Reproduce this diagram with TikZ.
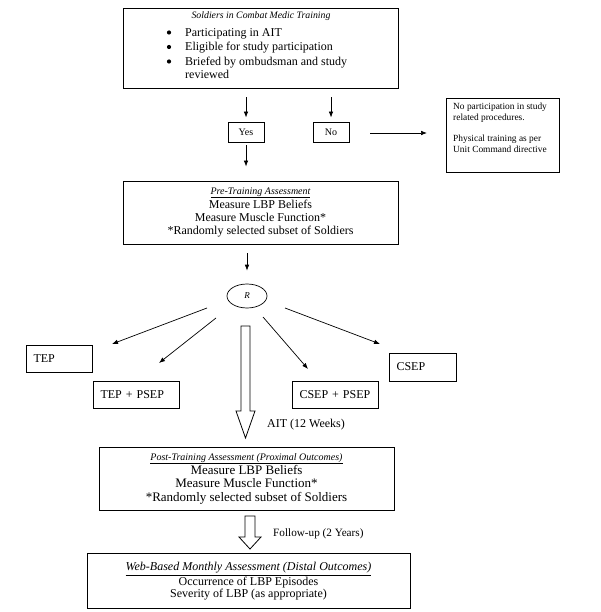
\documentclass[tikz,border=0pt]{standalone}
\usepackage{fontspec}
\setmainfont{Liberation Serif}
\usetikzlibrary{arrows.meta,calc,shapes.geometric}
\begin{document}
\begin{tikzpicture}[x=1pt,y=-1pt,
  box/.style={draw,line width=0.9pt,inner sep=0pt},
  arr/.style={line width=0.7pt,-{Latex[length=6pt,width=4.6pt]}},
  hollow/.style={draw,line width=0.8pt,fill=white},
  txt/.style={inner sep=0pt},
  bul/.style={circle,fill,inner sep=0pt,minimum size=4.2pt},
  grp/.style={box,align=left,inner xsep=7.5pt,inner ysep=0pt,font=\fontsize{12}{14}\selectfont},
]
\useasboundingbox (0,0) rectangle (600,612);

% top box
\node[box,minimum width=275,minimum height=80] (top) at (260.5,48) {};
\node[txt,font=\fontsize{9.8}{11}\selectfont\itshape] (toptitle) at (261,16.5) {Soldiers in Combat Medic Training};
\foreach \n/\yy/\t in {b1/36.5/Participating in AIT, b2/51/Eligible for study participation, b3/65.5/Briefed by ombudsman and study}{
  \node[txt,anchor=base west,font=\fontsize{12}{14}\selectfont] (\n) at (185,\yy) {\t};
  \node[bul] (\n d) at (169,\yy-4) {};
}
\node[txt,anchor=base west,font=\fontsize{12}{14}\selectfont] (b4) at (185,79) {reviewed};

% yes / no
\node[box,minimum width=36,minimum height=20,font=\fontsize{10}{12}\selectfont] (yes) at (246,132) {Yes};
\node[box,minimum width=36,minimum height=20,font=\fontsize{10}{12}\selectfont] (no) at (331,132) {No};
\draw[arr] ($(top.south -| yes.north)+(0,9)$) -- ($(yes.north)+(0,-4)$);
\draw[arr] ($(top.south -| no.north)+(0,9)$) -- ($(no.north)+(0,-4)$);

% no participation
\node[box,minimum width=113,minimum height=74] (nopart) at (502.5,135) {};
\node[txt,anchor=north west,align=left,font=\fontsize{9.4}{11}\selectfont] (noparttxt) at (453,102.5)
  {No participation in study\\related procedures.\\[10pt]Physical training as per\\Unit Command directive};
\coordinate (noend) at (427,133);
\draw[arr] ($(no.east)+(21,1)$) -- (noend);

% pre-training
\node[box,minimum width=275,minimum height=63,align=center,font=\fontsize{12}{13.3}\selectfont] (pre) at (260.5,212.5)
  {{\fontsize{10}{13.3}\selectfont\itshape\underline{Pre-Training Assessment}}\\[1pt]Measure LBP Beliefs\\Measure Muscle Function*\\*Randomly selected subset of Soldiers};
\draw[arr] ($(yes.south)+(0,3)$) -- ($(pre.north -| yes.south)+(0,-14)$);

% randomisation
\node[draw,ellipse,line width=0.7pt,minimum width=40,minimum height=24,inner sep=0pt,font=\fontsize{9}{10}\selectfont\itshape] (R) at (247,296) {R};
\draw[arr] ($(pre.south -| R.north)+(0,9)$) -- ($(R.north)+(0,-13)$);

\coordinate (r1s) at (207,308); \coordinate (r1e) at (112,344);
\coordinate (r2s) at (216,318); \coordinate (r2e) at (159,363);
\coordinate (r3s) at (263,317); \coordinate (r3e) at (308,369);
\coordinate (r4s) at (285,308); \coordinate (r4e) at (380,344);
\draw[arr] (r1s) -- (r1e);
\draw[arr] (r2s) -- (r2e);
\draw[arr] (r3s) -- (r3e);
\draw[arr] (r4s) -- (r4e);

% groups
\node[grp,text width=51,minimum height=27] (tep) at (59,358.5) {TEP};
\node[grp,text width=71,minimum height=27] (teppsep) at (136,394.5) {TEP + PSEP};
\node[grp,text width=71,minimum height=27] (cseppsep) at (335,394.5) {CSEP + PSEP};
\node[grp,text width=52,minimum height=28] (csep) at (422.5,367) {CSEP};

% big hollow arrow 1
\coordinate (h1) at (245.5,326);
\draw[hollow] ($(h1)+(-4.5,0)$) -- ++(9,0) -- ++(0,85) -- ++(5,0) -- ++(-9.5,27) -- ++(-9.5,-27) -- ++(5,0) -- cycle;
\node[txt,anchor=west,font=\fontsize{12}{14}\selectfont] (ait) at (267,425) {AIT (12 Weeks)};

% post-training
\node[box,minimum width=295,minimum height=63,align=center,font=\fontsize{13}{13.3}\selectfont] (post) at (246.5,478.5)
  {{\fontsize{10}{13.3}\selectfont\itshape\underline{Post-Training Assessment (Proximal Outcomes)}}\\[1pt]Measure LBP Beliefs\\Measure Muscle Function*\\*Randomly selected subset of Soldiers};

% hollow arrow 2
\coordinate (h2) at (250,516);
\draw[hollow] ($(h2)+(-5,0)$) -- ++(10,0) -- ++(0,21) -- ++(6,0) -- ++(-11,12) -- ++(-11,-12) -- ++(6,0) -- cycle;
\node[txt,anchor=west,font=\fontsize{11.2}{13}\selectfont] (fu) at (273,534) {Follow-up (2 Years)};

% web-based
\node[box,minimum width=323,minimum height=55] (web) at (248.5,580.5) {};
\node[txt,align=center,font=\fontsize{12}{12.5}\selectfont] (webtxt) at (248.5,581.5)
  {{\itshape\underline{Web-Based Monthly Assessment (Distal Outcomes)}}\\[0.5pt]Occurrence of LBP Episodes\\Severity of LBP (as appropriate)};
\end{tikzpicture}
\end{document}
